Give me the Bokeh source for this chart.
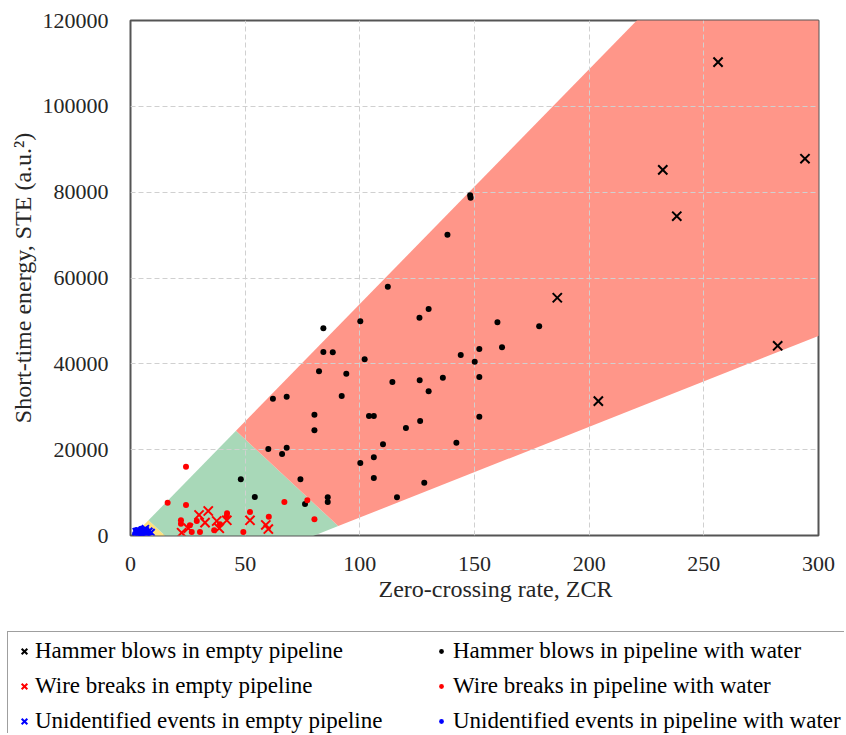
from bokeh.plotting import figure
from bokeh.models import Legend, LegendItem, FixedTicker, Range1d, BasicTickFormatter, Title
from bokeh.embed import file_html
from bokeh.resources import INLINE

# ---------------- data ----------------
x_ticks = [0, 50, 100, 150, 200, 250, 300]
y_ticks = [0, 20000, 40000, 60000, 80000, 100000, 120000]

# Hammer blows in empty pipeline (x markers, black)
hammer_empty_x = [256.2, 294.1, 232.1, 238.2, 186.1, 282.2, 204.0]
hammer_empty_y = [110300, 87800, 85200, 74400, 55400, 44200, 31300]

# Hammer blows in pipeline with water (dots, black)
hammer_water_x = [112.2, 130.0, 126.0, 160.0, 100.2, 84.1, 162.0, 152.1, 84.1, 88.2,
                  144.0, 102.1, 150.1, 82.2, 94.1, 136.2, 152.1, 114.2, 126.1, 130.0,
                  62.1, 68.1, 92.1, 80.2, 104.0, 106.1, 152.1, 126.3, 80.2, 120.1,
                  110.1, 142.1, 60.1, 68.1, 66.1, 106.1, 100.2, 48.1, 74.1, 106.1,
                  128.1, 54.2, 86.0, 86.0, 116.2, 76.1, 148.1, 148.3, 138.2, 178.2]
hammer_water_y = [57970, 52770, 50750, 49670, 49900, 48280, 43850, 43450, 42760, 42680,
                  42060, 41050, 40500, 38250, 37700, 36770, 36930, 35770, 36160, 33600,
                  31880, 32340, 32500, 28150, 27840, 27840, 27690, 26680, 24510, 25050,
                  21250, 21620, 20150, 20460, 18990, 18220, 16890, 13090, 13090, 13400,
                  12300, 8970, 8900, 7800, 8900, 7340, 79300, 78700, 70090, 48740]

# Wire breaks in empty pipeline (x markers, red)
wire_empty_x = [33.9, 29.9, 32.5, 37.6, 42.0, 38.7, 22.3, 52.1, 59.0, 60.1, 25.2, 5.0]
wire_empty_y = [5710, 4780, 2990, 3380, 3540, 1680, 650, 3540, 2450, 1510, 1680, 200]

# Wire breaks in pipeline with water (dots, red)
wire_water_x = [24.2, 16.2, 24.2, 67.1, 77.1, 80.2, 52.1, 60.3, 42.1, 22.0,
                22.0, 25.9, 49.2, 30.3, 26.7, 36.5, 42.0, 28.9, 39.0]
wire_water_y = [16030, 7640, 7110, 7810, 8200, 3770, 5480, 4380, 5170, 3540,
                2750, 2370, 815, 815, 815, 1210, 4540, 3380, 2610]

# Unidentified events in empty pipeline (x markers, blue)
unid_empty_x = [3.0, 5.0, 6.0, 7.0, 8.0, 4.0, 9.0, 5.0, 6.5, 2.5]
unid_empty_y = [500, 800, 1200, 600, 1000, 300, 700, 200, 1600, 900]

# Unidentified events in pipeline with water (dots, blue)
unid_water_x = [2.0, 3.0, 4.0, 5.0, 6.0, 7.0, 8.0, 4.5, 3.5, 6.0, 7.5, 2.5]
unid_water_y = [400, 700, 1100, 500, 300, 1400, 400, 1600, 200, 900, 900, 1300]

x_title = "Zero-crossing rate, ZCR"
y_title = "Short-time energy, STE (a.u.\u00b2)"

legend_labels_left = ["Hammer blows in empty pipeline",
                      "Wire breaks in empty pipeline",
                      "Unidentified events in empty pipeline"]
legend_labels_right = ["Hammer blows in pipeline with water",
                       "Wire breaks in pipeline with water",
                       "Unidentified events in pipeline with water"]

# class-region boundary lines: [slope, intercept]  (y = slope * x + intercept)
upper_line = [547.0, -750.0]
lower_line = [211.5, -16962.0]
cross_line_1 = [-495.0, 7425.0]
cross_line_2 = [-498.0, 47310.0]

region_colors = ["#FFE17C", "#A8D8B8", "#FF9689"]


def intersect(l1, l2):
    x = (l2[1] - l1[1]) / (l1[0] - l2[0])
    return x, l1[0] * x + l1[1]


def at(line, x):
    return x, line[0] * x + line[1]


FONT = "Liberation Serif"
TXT = "#262626"

# ---------------- main figure ----------------
p = figure(frame_width=688, frame_height=515,
           min_border_left=130, min_border_right=20, min_border_top=20, min_border_bottom=92,
           x_range=Range1d(0, 300), y_range=Range1d(0, 120000),
           output_backend="svg", toolbar_location=None,
           background_fill_color="white", border_fill_color="white")

# regions
yellow = [intersect(upper_line, cross_line_1), intersect(upper_line, lower_line),
          intersect(lower_line, cross_line_1)]
green = [intersect(upper_line, cross_line_1), intersect(upper_line, cross_line_2),
         intersect(lower_line, cross_line_2), intersect(lower_line, cross_line_1)]
red = [intersect(upper_line, cross_line_2), at(upper_line, 400),
       at(lower_line, 400), intersect(lower_line, cross_line_2)]
for poly, col in zip([yellow, green, red], region_colors):
    r = p.patch([v[0] for v in poly], [v[1] for v in poly],
                fill_color=col, line_color=None)
    r.level = "image"

# styles for each series
styles = {
    "he": dict(marker="x", size=13, line_color="black", line_width=2),
    "hw": dict(marker="circle", size=6, fill_color="black", line_color=None),
    "we": dict(marker="x", size=13, line_color="#FF0000", line_width=2),
    "ww": dict(marker="circle", size=6, fill_color="#FF0000", line_color=None),
    "ue": dict(marker="x", size=10, line_color="#0000FF", line_width=2),
    "uw": dict(marker="circle", size=6, fill_color="#0000FF", line_color=None),
}

p.scatter(hammer_water_x, hammer_water_y, **styles["hw"])
p.scatter(hammer_empty_x, hammer_empty_y, **styles["he"])
p.scatter(wire_water_x, wire_water_y, **styles["ww"])
p.scatter(wire_empty_x, wire_empty_y, **styles["we"])
p.scatter(unid_water_x, unid_water_y, **styles["uw"])
p.scatter(unid_empty_x, unid_empty_y, **styles["ue"])

# axes
for ax, ticks in ((p.xaxis, x_ticks), (p.yaxis, y_ticks)):
    ax.ticker = FixedTicker(ticks=ticks)
    ax.formatter = BasicTickFormatter(use_scientific=False)
    ax.major_label_text_font = FONT
    ax.major_label_text_font_size = "22px"
    ax.major_label_text_color = TXT
    ax.axis_label_text_font = FONT
    ax.axis_label_text_font_size = "24px"
    ax.axis_label_text_font_style = "normal"
    ax.axis_label_text_color = TXT
    ax.major_tick_line_color = None
    ax.minor_tick_line_color = None
    ax.axis_line_color = None
p.yaxis.axis_label = y_title
p.xaxis.major_label_standoff = 15
p.yaxis.major_label_standoff = 16
p.yaxis.axis_label_standoff = 4

# x-axis title (sits slightly right of centre in the reference)
p.add_layout(Title(text=x_title, align="left", offset=248, vertical_align="top", standoff=4,
                   text_font=FONT, text_font_size="24px", text_font_style="normal",
                   text_color=TXT), "below")

for g in (p.xgrid, p.ygrid):
    g.grid_line_color = "#D0D0D0"
    g.grid_line_dash = "5 3"
    g.grid_line_width = 1
p.xgrid.ticker = FixedTicker(ticks=x_ticks)
p.ygrid.ticker = FixedTicker(ticks=y_ticks)

p.outline_line_color = "#555555"
p.outline_line_width = 2

# ---------------- legend strip (separate root) ----------------
q = figure(frame_width=844, frame_height=106, min_border=0,
           x_range=Range1d(0, 1), y_range=Range1d(0, 1),
           x_axis_location=None, y_axis_location=None,
           output_backend="svg", toolbar_location=None,
           background_fill_color="white", border_fill_color="white")
q.xgrid.visible = False
q.ygrid.visible = False
q.outline_line_color = None

# one off-range sample per series so that the legend can draw its glyph
lr = {k: q.scatter([-5], [-5], **v) for k, v in styles.items()}

common = dict(label_text_font=FONT, label_text_font_size="23px", label_text_color="black",
              label_height=26, glyph_height=26, padding=6, spacing=9, margin=0)
leg_left = Legend(items=[LegendItem(label=legend_labels_left[0], renderers=[lr["he"]]),
                         LegendItem(label=legend_labels_left[1], renderers=[lr["we"]]),
                         LegendItem(label=legend_labels_left[2], renderers=[lr["ue"]])],
                  location=(7, -8), glyph_width=20, label_standoff=1, label_width=803,
                  border_line_color="#404040", border_line_width=1,
                  background_fill_color="white", background_fill_alpha=1.0, **common)
leg_right = Legend(items=[LegendItem(label=legend_labels_right[0], renderers=[lr["hw"]]),
                          LegendItem(label=legend_labels_right[1], renderers=[lr["ww"]]),
                          LegendItem(label=legend_labels_right[2], renderers=[lr["uw"]])],
                   location=(435, -1), glyph_width=12, label_standoff=6,
                   border_line_color=None, background_fill_alpha=0.0, **common)
q.add_layout(leg_left)
q.add_layout(leg_right)

open("out.html", "w").write(file_html([p, q], INLINE))
